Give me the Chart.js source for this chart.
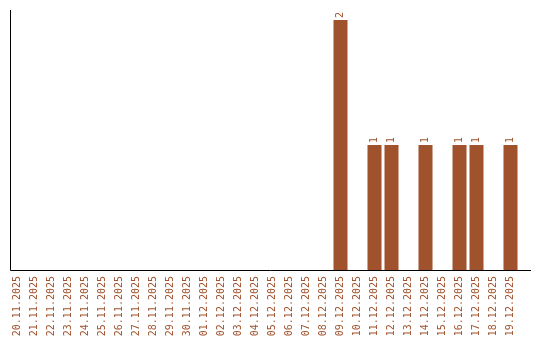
<!DOCTYPE html>
<html>
<head>
<meta charset="utf-8">
<script src="https://cdn.jsdelivr.net/npm/chart.js@4/dist/chart.umd.min.js"></script>
<style>
  html, body { margin: 0; padding: 0; background: #fff; }
  #wrap { width: 540px; height: 340px; position: relative; }
</style>
</head>
<body>
<div id="wrap"><canvas id="chart"></canvas></div>
<script>
var dates = [
  '20.11.2025', '21.11.2025', '22.11.2025', '23.11.2025', '24.11.2025',
  '25.11.2025', '26.11.2025', '27.11.2025', '28.11.2025', '29.11.2025',
  '30.11.2025', '01.12.2025', '02.12.2025', '03.12.2025', '04.12.2025',
  '05.12.2025', '06.12.2025', '07.12.2025', '08.12.2025', '09.12.2025',
  '10.12.2025', '11.12.2025', '12.12.2025', '13.12.2025', '14.12.2025',
  '15.12.2025', '16.12.2025', '17.12.2025', '18.12.2025', '19.12.2025'
];
var counts = [
  0, 0, 0, 0, 0,
  0, 0, 0, 0, 0,
  0, 0, 0, 0, 0,
  0, 0, 0, 0, 2,
  0, 1, 1, 0, 1,
  0, 1, 1, 0, 1
];

var BROWN = '#a0522d';
var FONT = '"DejaVu Sans Mono", monospace';

// Axis lines: y axis on the left, x axis running a bit past the last bar
var axisLines = {
  id: 'axisLines',
  afterDraw: function(chart) {
    var ctx = chart.ctx;
    var area = chart.chartArea;
    ctx.save();
    ctx.strokeStyle = '#000';
    ctx.lineWidth = 1;
    ctx.beginPath();
    ctx.moveTo(10.5, area.top);
    ctx.lineTo(10.5, area.bottom + 0.5);
    ctx.lineTo(531, area.bottom + 0.5);
    ctx.stroke();
    ctx.restore();
  }
};

// Rotated value labels above each non-empty bar
var valueLabels = {
  id: 'valueLabels',
  afterDatasetsDraw: function(chart) {
    var ctx = chart.ctx;
    var meta = chart.getDatasetMeta(0);
    ctx.save();
    ctx.fillStyle = BROWN;
    ctx.font = '10px ' + FONT;
    ctx.textAlign = 'left';
    ctx.textBaseline = 'middle';
    meta.data.forEach(function(bar, i) {
      if (!counts[i]) return;
      ctx.save();
      ctx.translate(bar.x, bar.y - 2);
      ctx.rotate(-Math.PI / 2);
      ctx.fillText(String(counts[i]), 0, 0);
      ctx.restore();
    });
    ctx.restore();
  }
};

new Chart(document.getElementById('chart'), {
  type: 'bar',
  data: {
    labels: dates,
    datasets: [{
      data: counts,
      backgroundColor: BROWN,
      borderWidth: 0,
      barPercentage: 14 / 17,
      categoryPercentage: 1
    }]
  },
  options: {
    responsive: true,
    maintainAspectRatio: false,
    animation: false,
    layout: { padding: { left: 9, right: 21, top: 10, bottom: 0 } },
    plugins: {
      legend: { display: false },
      tooltip: { enabled: false }
    },
    scales: {
      x: {
        grid: { display: false, drawTicks: false },
        border: { display: false },
        ticks: {
          color: BROWN,
          font: { family: FONT, size: 10 },
          minRotation: 90,
          maxRotation: 90,
          autoSkip: false,
          padding: 6
        },
        afterFit: function(scale) { scale.height = 70; }
      },
      y: {
        display: false,
        min: 0,
        max: 2.08
      }
    }
  },
  plugins: [axisLines, valueLabels]
});
</script>
</body>
</html>
